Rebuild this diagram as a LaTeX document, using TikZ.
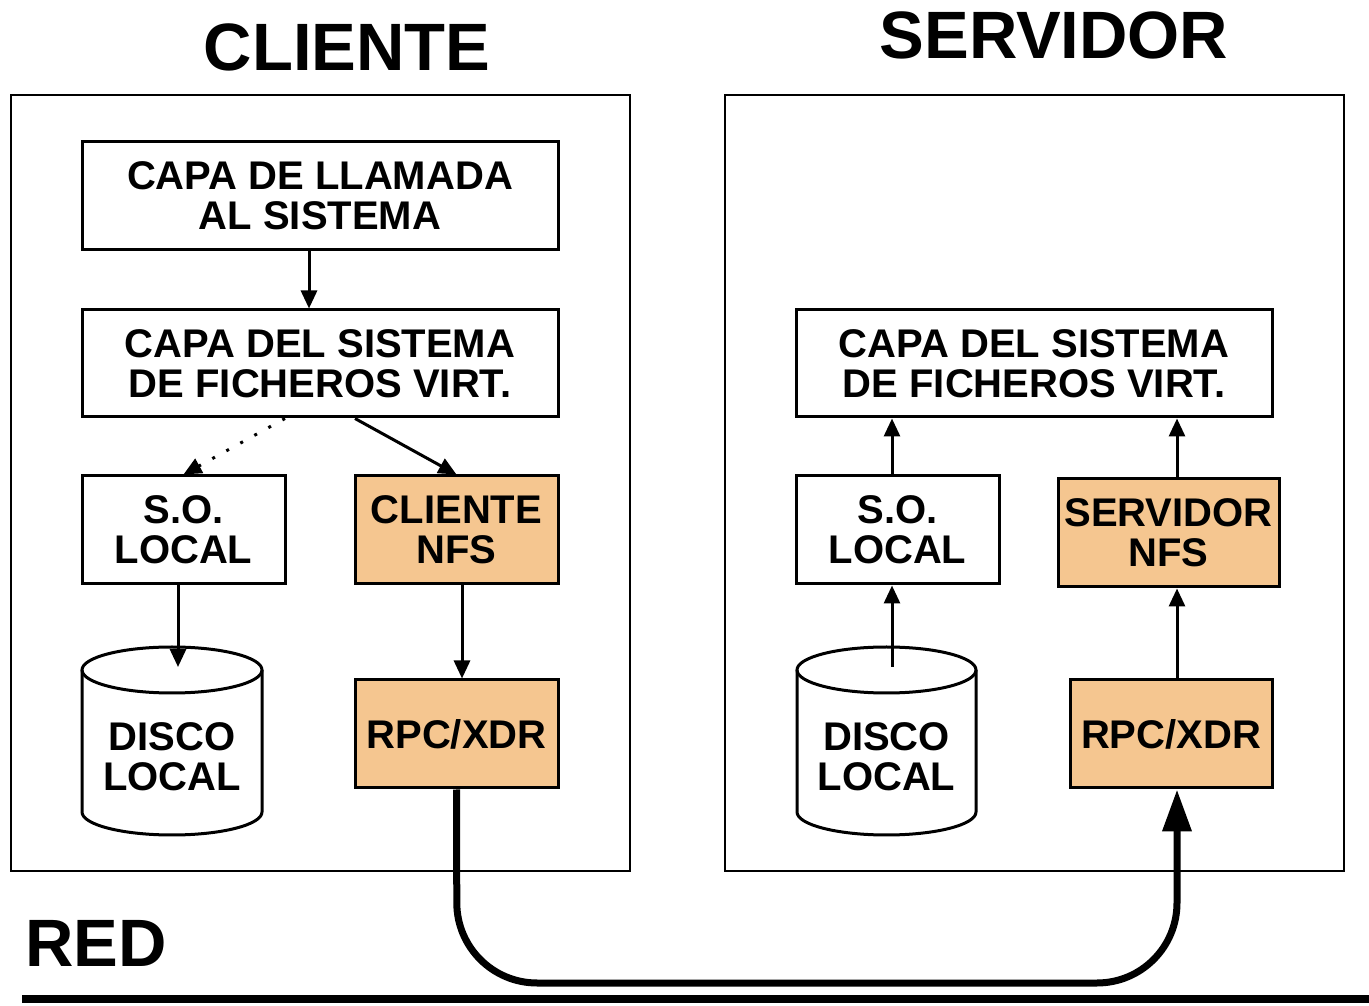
\documentclass[tikz,border=0pt]{standalone}
\usepackage{fontspec}
\setmainfont{Liberation Sans}
\usetikzlibrary{arrows.meta}
\definecolor{nfsorange}{HTML}{F5C690}

\begin{document}
\begin{tikzpicture}[x=1pt,y=1pt]
	\tikzstyle{every node}+=[inner sep=0pt, font=\fontsize{40}{40}\selectfont\bfseries, align=center]
	\tikzstyle{layerbox}=[draw=black, line width=3pt, fill=white]
	\tikzstyle{nfsbox}=[layerbox, fill=nfsorange]
	\tikzstyle{arr}=[line width=3pt, -{Triangle[width=16pt,length=18pt]}]
	\tikzstyle{title}=[font=\fontsize{67}{67}\selectfont\bfseries]
	\useasboundingbox (0,0) rectangle (1369,1005);
	% titles and frames
	\node[title] (tcli) at (347,958) {CLIENTE};
	\node[title] (tsrv) at (1054,970) {SERVIDOR};
	\draw [black, line width=2.5pt] (11,134) rectangle (630,910);
	\draw [black, line width=2.5pt] (725,134) rectangle (1344,910);
	% client side
	\node[layerbox, minimum width=476pt, minimum height=108pt] (call) at (320,809) {CAPA DE LLAMADA\\AL SISTEMA};
	\node[layerbox, minimum width=476pt, minimum height=107pt] (vfsC) at (320,641.5) {CAPA DEL SISTEMA\\DE FICHEROS VIRT.};
	\node[layerbox, minimum width=203pt, minimum height=108pt] (soC) at (183.5,475) {S.O.\\LOCAL};
	\node[nfsbox, minimum width=203pt, minimum height=108pt] (nfsC) at (456.5,475) {CLIENTE\\NFS};
	\node[nfsbox, minimum width=203pt, minimum height=108pt] (rpcC) at (456.5,271) {RPC/XDR};
	\draw [black, line width=3pt, fill=white] (82,335) -- (82,193) arc (180:360:90 and 23) -- (262,335);
	\draw [black, line width=3pt] (172,335) ellipse (90 and 23);
	\node (diskC) at (172,248) {DISCO\\LOCAL};
	\coordinate (diskCtop) at (178,338);
	% server side
	\node[layerbox, minimum width=476pt, minimum height=107pt] (vfsS) at (1034,641.5) {CAPA DEL SISTEMA\\DE FICHEROS VIRT.};
	\node[layerbox, minimum width=203pt, minimum height=108pt] (soS) at (897.5,475) {S.O.\\LOCAL};
	\node[nfsbox, minimum width=221pt, minimum height=108pt] (nfsS) at (1168.5,472) {SERVIDOR\\NFS};
	\node[nfsbox, minimum width=202pt, minimum height=108pt] (rpcS) at (1171,271) {RPC/XDR};
	\draw [black, line width=3pt, fill=white] (797,335) -- (797,193) arc (180:360:89.5 and 23) -- (976,335);
	\draw [black, line width=3pt] (886.5,335) ellipse (89.5 and 23);
	\node (diskS) at (886.5,248) {DISCO\\LOCAL};
	\coordinate (diskStop) at (892,338);
	% arrows
	\draw [arr] ([xshift=-11pt]call.south) -- ([xshift=-11pt]vfsC.north);
	\draw [arr, dash pattern=on 3pt off 13pt] ([xshift=-35pt]vfsC.south) -- (soC.north);
	\draw [arr] ([xshift=35pt]vfsC.south) -- (nfsC.north);
	\draw [arr] ([xshift=-5.5pt]soC.south) -- (diskCtop);
	\draw [arr] ([xshift=5.5pt]nfsC.south) -- ([xshift=5.5pt]rpcC.north);
	\draw [arr] (diskStop) -- (diskStop |- soS.south);
	\draw [arr] (diskStop |- soS.north) -- (diskStop |- vfsS.south);
	\draw [arr] ([xshift=6pt]rpcS.north) -- ([xshift=6pt]rpcS.north |- nfsS.south);
	\draw [arr] ([xshift=8.5pt]nfsS.north) -- ([xshift=8.5pt]nfsS.north |- vfsS.south);
	% network
	\node[title, anchor=west] (red) at (25,62) {RED};
	\draw [black, line width=8pt] (22,6) -- (1369,6);
	\coordinate (netL) at (457,22);
	\coordinate (netR) at (1177,22);
	\draw [black, line width=7pt, rounded corners=80pt, -{Triangle[width=28pt,length=42pt]}] (rpcC.south) -- (netL) -- (netR) -- ([xshift=6pt]rpcS.south);
\end{tikzpicture}
\end{document}
